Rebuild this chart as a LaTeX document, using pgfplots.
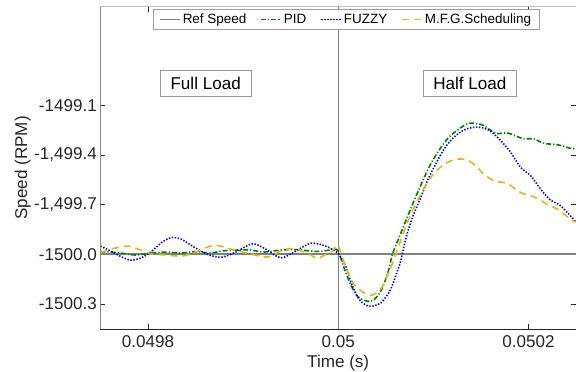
\documentclass[border=0pt]{standalone}
\usepackage{fontspec}
\setmainfont{Liberation Sans}
\usepackage{pgfplots}
\pgfplotsset{compat=1.18}
\definecolor{pidgreen}{RGB}{0,128,0}
\definecolor{fuzzyblue}{RGB}{0,0,255}
\definecolor{mfgorange}{RGB}{237,177,32}
\definecolor{refgray}{RGB}{128,128,128}
\definecolor{txt}{RGB}{38,38,38}
\begin{document}
\begin{tikzpicture}
\path[use as bounding box] (-100bp,-42.5bp) rectangle (473.5bp,327.5bp);
\begin{axis}[
  at={(0,0)}, anchor=south west,
  scale only axis, width=473.5bp, height=320.8bp,
  xmin=0.04975, xmax=0.05025, ymin=-1500.45, ymax=-1498.505,
  clip mode=individual,
  axis line style={draw=none},
  tick align=inside, major tick length=5bp,
  tick style={color=txt, line width=0.6bp},
  xtick={0.0498,0.05,0.0502}, xticklabels={0.0498,0.05,0.0502},
  ytick={-1500.3,-1500,-1499.7,-1499.4,-1499.1},
  yticklabels={-1500.3,-1500.0,{-1,499.7},{-1,499.4},-1499.1},
  scaled x ticks=false, scaled y ticks=false,
  /pgf/number format/assume math mode=true,
  tick label style={font=\fontsize{17bp}{20bp}\selectfont, color=txt},
  xticklabel style={yshift=-3bp},
  label style={font=\fontsize{17bp}{20bp}\selectfont, color=txt},
  xlabel={Time (s)}, ylabel={Speed (RPM)},
  xlabel style={at={(axis description cs:0.5,-0.1045)}, anchor=center},
  ylabel style={at={(axis description cs:-0.1637,0.5)}, anchor=center},
  legend columns=4,
  legend style={at={(rel axis cs:0.5167,0.9928)}, anchor=north,
    font=\fontsize{13.4bp}{15bp}\selectfont, text=black,
    draw=gray!75, fill=white, line width=0.6bp,
    inner xsep=6bp, inner ysep=2.5bp,
    /tikz/every even column/.append style={column sep=12bp}},
  legend image code/.code={\draw[#1, line width=1.4bp] (0bp,0bp) -- (20bp,0bp);},
]
% vertical marker at 0.05
\addplot[refgray, line width=0.8bp, forget plot] coordinates {(0.05,-1500.45) (0.05,-1498.505)};
% Ref Speed
\addplot[refgray, line width=2bp] coordinates {(0.04975,-1500) (0.05025,-1500)};
\addlegendentry{Ref Speed}
% PID
\addplot[pidgreen, line width=1.6bp, smooth, tension=0.5, dash pattern=on 5bp off 2bp on 1.2bp off 2bp] coordinates {
(0.04975,-1499.983) (0.0497609,-1499.986) (0.0497714,-1499.992) (0.0497872,-1500.004)
(0.0498029,-1499.992) (0.0498187,-1499.986) (0.0498345,-1499.992) (0.0498502,-1499.983)
(0.0498660,-1499.992) (0.0498765,-1499.980) (0.0498923,-1499.974) (0.0499080,-1499.974)
(0.0499217,-1499.986) (0.0499396,-1499.974) (0.0499553,-1499.971) (0.0499711,-1499.980)
(0.0499816,-1499.982) (0.0499953,-1499.970) (0.0500000,-1499.980) (0.0500061,-1500.081)
(0.0500131,-1500.182) (0.0500202,-1500.253) (0.0500307,-1500.283) (0.0500376,-1500.273)
(0.0500447,-1500.222) (0.0500517,-1500.121) (0.0500570,-1500.000) (0.0500639,-1499.899)
(0.0500797,-1499.677) (0.0500972,-1499.455) (0.0501148,-1499.303) (0.0501322,-1499.222)
(0.0501393,-1499.208) (0.0501463,-1499.212) (0.0501532,-1499.222) (0.0501655,-1499.269)
(0.0501778,-1499.267) (0.0501883,-1499.289) (0.0501953,-1499.303) (0.0502058,-1499.303)
(0.0502163,-1499.330) (0.0502304,-1499.338) (0.0502444,-1499.360) (0.05025,-1499.362)
};
\addlegendentry{PID}
% FUZZY
\addplot[fuzzyblue, line width=1.6bp, smooth, tension=0.5, dash pattern=on 1.4bp off 1.6bp] coordinates {
(0.04975,-1499.950) (0.0497609,-1499.980) (0.0497714,-1500.013) (0.0497819,-1500.035)
(0.0497924,-1500.022) (0.0498029,-1499.986) (0.0498135,-1499.932) (0.0498240,-1499.899)
(0.0498345,-1499.907) (0.0498450,-1499.944) (0.0498555,-1499.980) (0.0498660,-1500.007)
(0.0498783,-1500.016) (0.0498923,-1499.986) (0.0499098,-1499.936) (0.0499238,-1499.968)
(0.0499396,-1500.021) (0.0499553,-1499.980) (0.0499711,-1499.933) (0.0499869,-1499.950)
(0.0499992,-1499.990) (0.0500005,-1499.998) (0.0500079,-1500.071) (0.0500131,-1500.162)
(0.0500184,-1500.235) (0.0500236,-1500.283) (0.0500321,-1500.313) (0.0500394,-1500.307)
(0.0500447,-1500.293) (0.0500499,-1500.259) (0.0500552,-1500.210) (0.0500622,-1500.101)
(0.0500657,-1500.041) (0.0500692,-1499.950) (0.0500727,-1499.871) (0.0500783,-1499.774)
(0.0500867,-1499.657) (0.0500951,-1499.538) (0.0501043,-1499.435) (0.0501130,-1499.350)
(0.0501217,-1499.293) (0.0501309,-1499.253) (0.0501393,-1499.236) (0.0501498,-1499.233)
(0.0501603,-1499.257) (0.0501708,-1499.313) (0.0501813,-1499.384) (0.0501918,-1499.475)
(0.0502023,-1499.525) (0.0502128,-1499.606) (0.0502233,-1499.673) (0.0502339,-1499.707)
(0.05025,-1499.804)
};
\addlegendentry{FUZZY}
% M.F.G.Scheduling
\addplot[mfgorange, line width=1.6bp, smooth, tension=0.5, dash pattern=on 7bp off 5bp] coordinates {
(0.04975,-1499.990) (0.0497609,-1499.968) (0.0497785,-1499.950) (0.0497924,-1499.974)
(0.0498029,-1499.996) (0.0498187,-1500.004) (0.0498362,-1500.010) (0.0498502,-1499.986)
(0.0498695,-1499.945) (0.0498870,-1499.968) (0.0499080,-1499.998) (0.0499256,-1500.016)
(0.0499396,-1499.980) (0.0499501,-1499.965) (0.0499553,-1499.965) (0.0499711,-1500.004)
(0.0499781,-1500.024) (0.0499869,-1500.001) (0.0499921,-1499.990) (0.0499992,-1499.945)
(0.0500044,-1500.021) (0.0500097,-1500.101) (0.0500166,-1500.182) (0.0500271,-1500.233)
(0.0500331,-1500.247) (0.0500376,-1500.241) (0.0500447,-1500.210) (0.0500531,-1500.113)
(0.0500604,-1500.000) (0.0500692,-1499.859) (0.0500762,-1499.762) (0.0500832,-1499.677)
(0.0500899,-1499.604) (0.0500972,-1499.536) (0.0501056,-1499.483) (0.0501148,-1499.445)
(0.0501235,-1499.425) (0.0501288,-1499.424) (0.0501361,-1499.431) (0.0501445,-1499.465)
(0.0501532,-1499.515) (0.0501638,-1499.556) (0.0501778,-1499.572) (0.0501918,-1499.627)
(0.0502058,-1499.653) (0.0502199,-1499.697) (0.0502304,-1499.727) (0.0502444,-1499.788)
(0.05025,-1499.804)
};
\addlegendentry{M.F.G.Scheduling}
% frame
\draw[color=black!25, line width=0.8bp] (rel axis cs:0,1) -- (rel axis cs:1,1);
\draw[color=black!45, line width=0.8bp] (rel axis cs:1,0) -- (rel axis cs:1,1);
\draw[color=black!45, line width=0.8bp] (rel axis cs:0,0) -- (rel axis cs:0,1);
\draw[color=txt, line width=0.8bp] (rel axis cs:0,0) -- (rel axis cs:1,0);
% annotations
\node[draw=gray!80, fill=white, line width=0.6bp, inner xsep=10bp, minimum height=26bp,
  font=\fontsize{17bp}{20bp}\selectfont, text=black] at (rel axis cs:0.2213,0.7612) {Full Load};
\node[draw=gray!80, fill=white, line width=0.6bp, inner xsep=10bp, minimum height=26bp,
  font=\fontsize{17bp}{20bp}\selectfont, text=black] at (rel axis cs:0.7768,0.7622) {Half Load};
\end{axis}
\end{tikzpicture}
\end{document}
